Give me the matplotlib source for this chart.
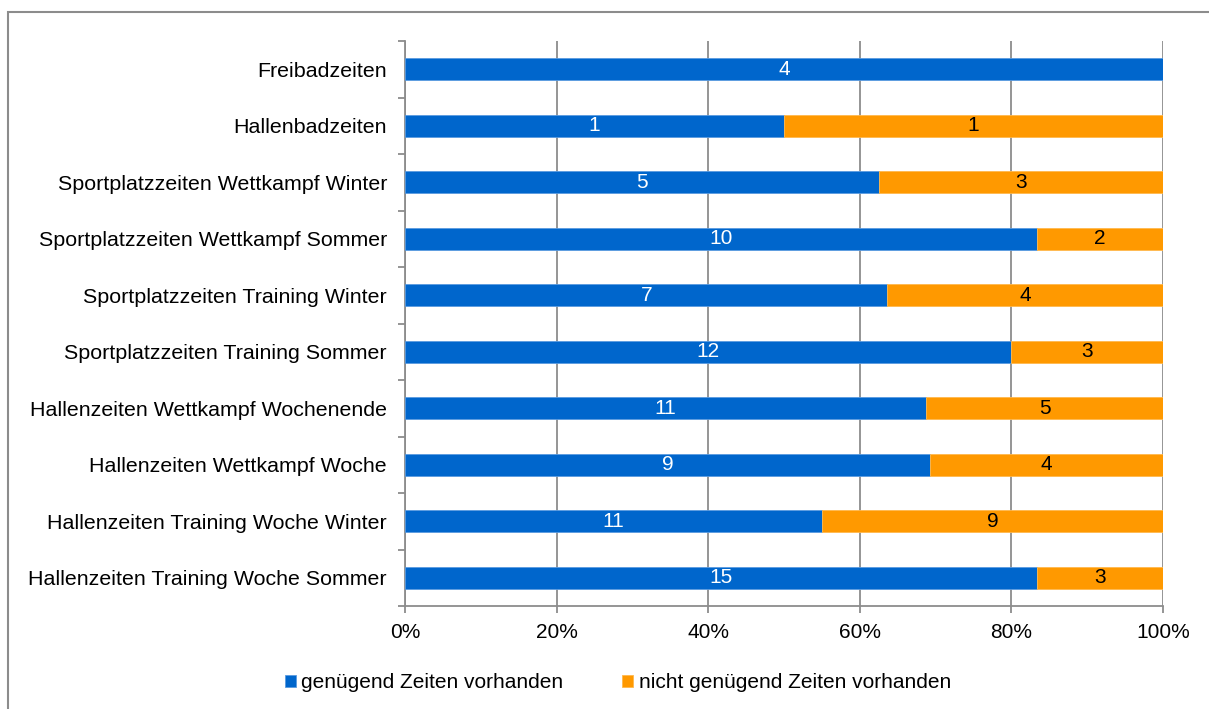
import numpy as np
import matplotlib.pyplot as plt
from matplotlib.patches import Rectangle
from matplotlib.ticker import FixedLocator, PercentFormatter

plt.rcParams['font.family'] = ['Liberation Sans', 'DejaVu Sans']

categories = [
    "Freibadzeiten",
    "Hallenbadzeiten",
    "Sportplatzzeiten Wettkampf Winter",
    "Sportplatzzeiten Wettkampf Sommer",
    "Sportplatzzeiten Training Winter",
    "Sportplatzzeiten Training Sommer",
    "Hallenzeiten Wettkampf Wochenende",
    "Hallenzeiten Wettkampf Woche",
    "Hallenzeiten Training Woche Winter",
    "Hallenzeiten Training Woche Sommer",
]
genuegend = [4, 1, 5, 10, 7, 12, 11, 9, 11, 15]
nicht_genuegend = [0, 1, 3, 2, 4, 3, 5, 4, 9, 3]
series_names = ["genügend Zeiten vorhanden", "nicht genügend Zeiten vorhanden"]

blue = "#0066CC"
orange = "#FF9900"
grey = "#8C8C8C"
fs = 15

g = np.array(genuegend, dtype=float)
n = np.array(nicht_genuegend, dtype=float)
total = g + n
g_share = g / total
n_share = n / total
y = np.arange(len(categories))[::-1]

fig = plt.figure(figsize=(12.09, 7.09), dpi=100)
ax = fig.add_axes([0.335, 0.145, 0.627, 0.797])

bh = 0.39
ax.barh(y, g_share, height=bh, color=blue, edgecolor="#5A9BE0", linewidth=0.6,
        label=series_names[0], zorder=3)
ax.barh(y, n_share, left=g_share, height=bh, color=orange, edgecolor="#FFB84D",
        linewidth=0.6, label=series_names[1], zorder=3)

for yi, gs, ns, gv, nv in zip(y, g_share, n_share, genuegend, nicht_genuegend):
    if gv:
        ax.text(gs / 2, yi, str(gv), ha="center", va="center", color="white",
                fontsize=fs, zorder=4)
    if nv:
        ax.text(gs + ns / 2, yi, str(nv), ha="center", va="center", color="black",
                fontsize=fs, zorder=4)

ax.set_xlim(0, 1)
ax.set_ylim(-0.5, len(categories) - 0.5)
ax.xaxis.set_major_locator(FixedLocator([0, 0.2, 0.4, 0.6, 0.8, 1.0]))
ax.xaxis.set_major_formatter(PercentFormatter(1.0, decimals=0))
ax.grid(axis="x", color=grey, linewidth=1.3, zorder=0)

ax.set_yticks(y)
ax.set_yticklabels(categories)
ax.yaxis.set_minor_locator(FixedLocator(np.arange(-0.5, len(categories), 1.0)))
ax.tick_params(axis="y", which="major", length=0, pad=13, labelsize=15.4)
ax.tick_params(axis="y", which="minor", length=5, color=grey, width=1.3)
ax.tick_params(axis="x", length=5, color=grey, width=1.3, labelsize=fs, pad=7)

for side in ("top", "right"):
    ax.spines[side].set_visible(False)
for side in ("left", "bottom"):
    ax.spines[side].set_color(grey)
    ax.spines[side].set_linewidth(1.3)

fig.legend(loc="center", bbox_to_anchor=(0.511, 0.037), ncol=2, frameon=False,
           fontsize=fs, handlelength=0.55, handleheight=0.55, handletextpad=0.25,
           columnspacing=2.8)

# outer chart frame
fig.patches.append(Rectangle((8 / 1209, -0.05), 1.2, 1 - 12 / 709 + 0.05,
                             transform=fig.transFigure, fill=False,
                             edgecolor=grey, linewidth=1.5))

fig.savefig("out.png", dpi=100)
